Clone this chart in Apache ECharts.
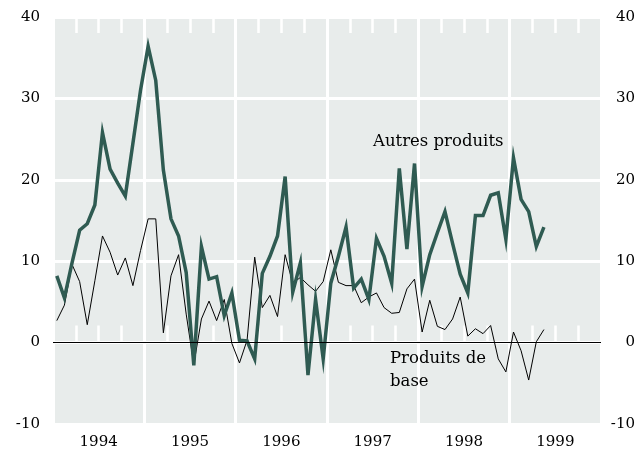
<!DOCTYPE html>
<html><head><meta charset="utf-8">
<script src="https://cdn.jsdelivr.net/npm/echarts@6/dist/echarts.min.js"></script>
<style>html,body{margin:0;padding:0;background:#fff}#c{width:643px;height:450px}</style>
</head><body><div id="c"></div>
<script>
// Monthly data, January 1994 to May 1999
const years = ['1994','1995','1996','1997','1998','1999'];
const yTicks = [-10, 0, 10, 20, 30, 40];
const autresProduits = [
  8.2, 5.5, 9.8, 13.8, 14.6, 16.9, 25.8, 21.3, 19.6, 18.0, 24.5, 31.0,
  36.4, 32.2, 21.2, 15.2, 13.1, 8.6, -2.8, 11.8, 7.8, 8.1, 3.3, 6.1,
  0.3, 0.2, -2.0, 8.5, 10.6, 13.1, 20.4, 6.2, 9.8, -4.0, 5.3, -2.0,
  7.3, 10.6, 14.2, 6.7, 7.8, 5.3, 12.8, 10.6, 7.3, 21.4, 11.5, 22.0,
  6.9, 10.8, 13.5, 16.1, 12.2, 8.4, 6.1, 15.6, 15.6, 18.1, 18.4, 12.7,
  22.7, 17.6, 16.1, 11.8, 14.2
];
const produitsDeBase = [
  2.7, 4.6, 9.6, 7.5, 2.2, 7.6, 13.1, 11.1, 8.3, 10.4, 7.0, 11.3,
  15.2, 15.2, 1.2, 8.2, 10.8, 3.5, -2.7, 2.9, 5.1, 2.7, 5.3, -0.1,
  -2.5, 0.3, 10.5, 4.3, 5.8, 3.2, 10.8, 7.3, 8.0, 7.1, 6.3, 7.5,
  11.4, 7.4, 7.0, 7.0, 4.9, 5.6, 6.1, 4.3, 3.6, 3.7, 6.6, 7.8,
  1.3, 5.2, 2.0, 1.6, 2.9, 5.6, 0.8, 1.7, 1.1, 2.1, -2.0, -3.6,
  1.3, -1.0, -4.6, 0.1, 1.6
];
const labelAutres = 'Autres produits';
const labelBase = ['Produits de', 'base'];

const FONT = '"DejaVu Serif", "Liberation Serif", serif';
const toXY = arr => arr.map((v, i) => [i + 0.5, v]);

const chart = echarts.init(document.getElementById('c'), null, {renderer: 'canvas'});
const yAxisCommon = {
  type: 'value', min: -10, max: 40, interval: 10,
  axisLine: {show: false}, axisTick: {show: false},
  axisLabel: {color: '#000', fontFamily: FONT, fontSize: 15,
    formatter: v => yTicks.includes(v) ? String(v) : ''}
};
chart.setOption({
  animation: false,
  grid: {left: 53, right: 42, top: 17, bottom: 26, show: true,
    backgroundColor: '#e8eceb', borderWidth: 0},
  xAxis: [
    {type: 'value', min: 0, max: 72, interval: 12, position: 'bottom',
      axisLine: {show: false}, axisTick: {show: false}, axisLabel: {show: false},
      splitLine: {show: true, lineStyle: {color: '#ffffff', width: 3}}},
    {type: 'value', min: 0, max: 72, interval: 3, position: 'bottom',
      axisLine: {show: false}, axisLabel: {show: false}, splitLine: {show: false},
      axisTick: {show: true, inside: true, length: 17, lineStyle: {color: '#ffffff', width: 2.5}}},
    {type: 'value', min: 0, max: 72, interval: 3, position: 'top',
      axisLine: {show: false}, axisLabel: {show: false}, splitLine: {show: false},
      axisTick: {show: true, inside: true, length: 16, lineStyle: {color: '#ffffff', width: 2.5}}},
    {type: 'category', data: years, position: 'bottom', boundaryGap: true,
      axisLine: {show: false}, axisTick: {show: false}, splitLine: {show: false},
      axisLabel: {color: '#000', fontFamily: FONT, fontSize: 15, margin: 11}}
  ],
  yAxis: [
    Object.assign({}, yAxisCommon, {position: 'left',
      splitLine: {show: true, lineStyle: {color: '#ffffff', width: 3}},
      axisLabel: Object.assign({}, yAxisCommon.axisLabel, {margin: 13})}),
    Object.assign({}, yAxisCommon, {position: 'right', splitLine: {show: false},
      axisLabel: Object.assign({}, yAxisCommon.axisLabel, {margin: 34, align: 'right'})})
  ],
  series: [
    {type: 'line', name: 'Produits de base', data: toXY(produitsDeBase),
      xAxisIndex: 0, yAxisIndex: 0, showSymbol: false, symbol: 'none',
      lineStyle: {color: '#000000', width: 1}, z: 3,
      markLine: {silent: true, symbol: 'none', label: {show: false},
        lineStyle: {color: '#000', width: 1, type: 'solid'}, data: [{yAxis: 0}]}},
    {type: 'line', name: 'Autres produits', data: toXY(autresProduits),
      xAxisIndex: 0, yAxisIndex: 0, showSymbol: false, symbol: 'none',
      lineStyle: {color: '#2f5b52', width: 3.5, join: 'miter'}, z: 4}
  ],
  graphic: [
    {type: 'text', left: 373, top: 133, z: 10,
      style: {text: labelAutres, font: '16.5px ' + FONT, fill: '#000'}},
    {type: 'text', left: 390, top: 347, z: 10,
      style: {text: labelBase.join('\n'), font: '16.5px ' + FONT, fill: '#000', lineHeight: 23}}
  ]
});
</script></body></html>
